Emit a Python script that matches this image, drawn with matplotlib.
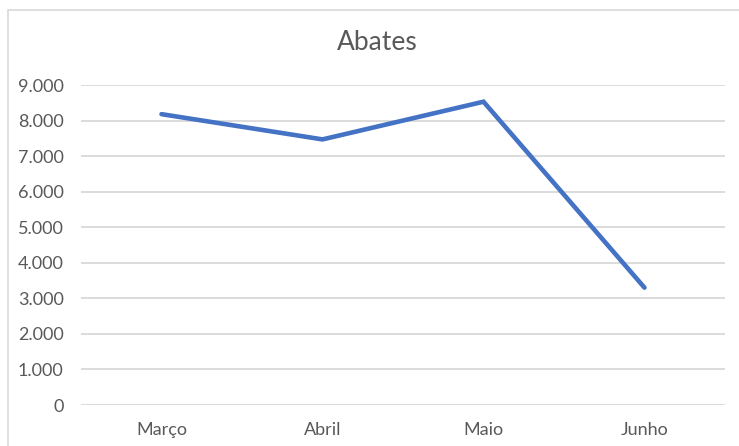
import matplotlib
matplotlib.use("Agg")
import matplotlib.pyplot as plt
from matplotlib.patches import Rectangle
from matplotlib.ticker import FuncFormatter

categories = ["Março", "Abril", "Maio", "Junho"]
values = [8180, 7470, 8530, 3300]
yticks = [0, 1000, 2000, 3000, 4000, 5000, 6000, 7000, 8000, 9000]
title = "Abates"

W, H = 739, 446
fig = plt.figure(figsize=(W / 100, H / 100), dpi=100)
plt.rcParams['font.family'] = ['Lato', 'DejaVu Sans']

# outer chart border
fig.patches.append(Rectangle((8 / W, -0.05), 1.2, (H - 10) / H + 0.05,
                             transform=fig.transFigure, fill=False,
                             edgecolor='#D9D9D9', linewidth=1.2))

left, right, top, bottom = 81, 725, 85, 405
ax = fig.add_axes([left / W, (H - bottom) / H, (right - left) / W, (bottom - top) / H])

x = list(range(len(categories)))
ax.plot(x, values, color='#4472C4', linewidth=3.3, solid_capstyle='round',
        solid_joinstyle='miter', zorder=3)

ax.set_xlim(-0.5, len(categories) - 0.5)
ax.set_ylim(0, 9000)
ax.set_yticks(yticks)
ax.yaxis.set_major_formatter(FuncFormatter(lambda v, p: f"{int(v):,}".replace(",", ".")))
ax.set_xticks(x)
ax.set_xticklabels(categories)

for y in yticks:
    ax.axhline(y, color='#D9D9D9', linewidth=1.3, zorder=1)

for s in ax.spines.values():
    s.set_visible(False)
ax.tick_params(axis='both', length=0, labelsize=13, labelcolor='#595959')
ax.tick_params(axis='y', pad=12.5)
ax.tick_params(axis='x', pad=12.5)

fig.text(377 / W, (H - 42.5) / H, title, ha='center', va='center',
         fontsize=19, color='#595959')

fig.savefig("out.png", dpi=100)
